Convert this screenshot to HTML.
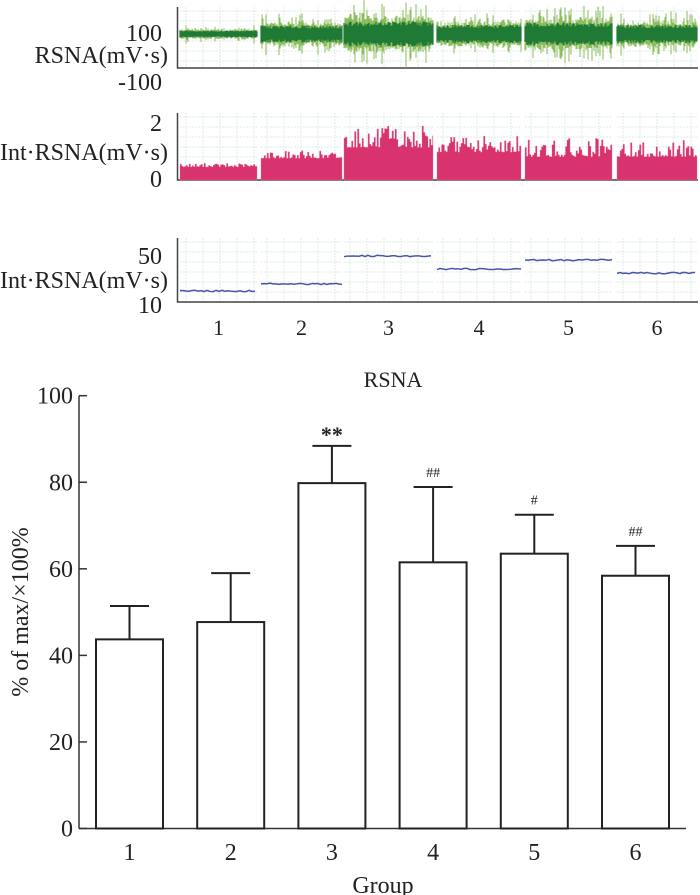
<!DOCTYPE html>
<html><head><meta charset="utf-8"><style>
body{margin:0;background:#fff}
svg{display:block;font-family:"Liberation Serif",serif}
</style></head><body>
<svg id="c" width="700" height="895" viewBox="0 0 700 895" xmlns="http://www.w3.org/2000/svg">
<g id="topg"></g>
<g id="bot"></g>
</svg>
<script>
// ---------- data ----------
const groups = ["1","2","3","4","5","6"];
const means = [43.7, 47.7, 79.8, 61.5, 63.5, 58.4];
const errTops = [51.4, 59.0, 88.4, 78.9, 72.5, 65.3];
const marks = ["", "", "**", "##", "#", "##"];
const yTicks = [0, 20, 40, 60, 80, 100];
// trace panel data (per group)
const rawAmp = [5, 12, 18, 13, 16, 13];
const intLevel = [0.42, 0.7, 1.05, 0.9, 0.75, 0.75];
const intPeak = [0.55, 0.95, 1.75, 1.45, 1.35, 1.3];
const meanLevel = [19.6, 25.7, 50, 38.7, 46.5, 35.2];

const NS = "http://www.w3.org/2000/svg";
function el(tag, attrs, parent){const e=document.createElementNS(NS,tag);for(const k in attrs)e.setAttribute(k,attrs[k]);parent.appendChild(e);return e;}
function txt(s, attrs, parent){const e=el("text",attrs,parent);e.textContent=s;return e;}
function noise(i){const v=Math.sin(i*12.9898+78.233)*43758.5453;return v-Math.floor(v);}

// ---------- bottom chart ----------
const bot=document.getElementById("bot");
const X0=79, Y0=828.5, Y100=395.7, XEND=686;
const yS=v=>Y0-(v/100)*(Y0-Y100);
const bx=i=>96+i*101.2;
const BW=67;
const ya=el("line",{x1:X0,y1:Y100,x2:X0,y2:Y0,stroke:"#333","stroke-width":1.5},bot);


const xa=el("line",{x1:X0,y1:Y0,x2:XEND,y2:Y0,stroke:"#333","stroke-width":1.5},bot);


yTicks.forEach(t=>{
  const l=el("line",{x1:X0,y1:yS(t),x2:X0+8,y2:yS(t),stroke:"#333","stroke-width":1.5},bot);
  
  
  const tt=txt(String(t),{x:X0-6,y:yS(t)+8,"text-anchor":"end","font-size":24,fill:"#222"},bot);
  
  
});
groups.forEach((g,i)=>{
  const x=bx(i), cx=x+BW/2;
  const ev=el("line",{x1:cx,y1:yS(errTops[i]),x2:cx,y2:yS(means[i]),stroke:"#222","stroke-width":2},bot);
  
  
  const cap=el("line",{x1:cx-19.5,y1:yS(errTops[i]),x2:cx+19.5,y2:yS(errTops[i]),stroke:"#222","stroke-width":2},bot);
  
  
  const r=el("rect",{x:x,y:yS(means[i]),width:BW,height:Y0-yS(means[i]),fill:"#fff",stroke:"#222","stroke-width":2},bot);
  
  
  const lab=txt(g,{x:cx,y:860,"text-anchor":"middle","font-size":24,fill:"#222"},bot);
  
  
  if(marks[i]){
    const star=marks[i]==="**";
    const m=txt(marks[i],{x:cx,y:yS(errTops[i])-(star?4:10),"text-anchor":"middle","font-size":star?22:14,"font-weight":star?"bold":"normal",fill:"#222"},bot);
    
    
  }
});
const ti=txt("RSNA",{x:393,y:387,"text-anchor":"middle","font-size":22,fill:"#222"},bot);


const xt=txt("Group",{x:383,y:893,"text-anchor":"middle","font-size":24,fill:"#222"},bot);


const yt=txt("% of max/×100%",{x:0,y:0,"text-anchor":"middle","font-size":24,fill:"#222",transform:"translate(28,612) rotate(-90)"},bot);



// ---------- top traces ----------
const topG=document.getElementById("topg");
const segs=[[180,257],[261,342],[344,433],[437,521],[525,612],[617,697]];
const AX=177.5;
function panel(y0,y1,name){
  segs.forEach(s=>{
    for(let x=s[0]+6;x<s[1];x+=17) el("line",{x1:x,y1:y0,x2:x,y2:y1,stroke:"#dcebe6","stroke-width":1,"stroke-dasharray":"2,1"},topG);
    for(let yy=y0+4;yy<y1;yy+=10) el("line",{x1:s[0],y1:yy,x2:s[1],y2:yy,stroke:"#dcebe6","stroke-width":1,"stroke-dasharray":"2,1"},topG);
  });
  const a=el("polyline",{points:`${AX},${y0} ${AX},${y1} 698,${y1}`,fill:"none",stroke:"#444","stroke-width":1.5},topG);
  
  
}
panel(7,68,"raw-rsna");panel(113,180,"int-rsna");panel(238,302,"mean-rsna");
let k=0;
segs.forEach((s,i)=>{
  const c=34, A=rawAmp[i]*0.8;
  let d="";
  for(let x=s[0];x<=s[1];x+=1){const n=noise(k++);const h=A*(1+1.2*Math.pow(n,5));d+=`M${x},${c-h*(0.7+0.5*noise(k++))}V${c+h*(0.7+0.5*noise(k++))}`;}
  const p=el("path",{d:d,stroke:"#8dbd5c","stroke-width":1,fill:"none"},topG);
  
  
  let d2="";
  for(let x=s[0];x<=s[1];x+=1){const h=A*(0.55+0.35*noise(k++));d2+=`M${x},${c-h}V${c+h}`;}
  el("path",{d:d2,stroke:"#1f7a35","stroke-width":1.2,fill:"none"},topG);
});
const iy=v=>180-v*31;
segs.forEach((s,i)=>{
  let d=`M${s[0]},180`;
  for(let x=s[0];x<s[1];x+=1.5){const n=noise(k++);const v=intLevel[i]+(intPeak[i]-intLevel[i])*Math.pow(n,2.5);d+=`L${x},${iy(v)}L${Math.min(x+1.5,s[1])},${iy(v)}`;}
  d+=`L${s[1]},180Z`;
  const p=el("path",{d:d,fill:"#d8326f",stroke:"#e27aa0","stroke-width":0.4},topG);
  
  
});
const my=v=>302-(v-10)*(302-256)/40;
segs.forEach((s,i)=>{
  let pts="";
  for(let x=s[0];x<=s[1];x+=3){pts+=`${x},${my(meanLevel[i])+(noise(k++)-0.5)*1.5} `;}
  const p=el("polyline",{points:pts,fill:"none",stroke:"#4a55a8","stroke-width":1.5},topG);
  
  
});
[["100",162,41],["RSNA(mV·s)",168,63],["-100",162,90],["2",162,131],["Int·RSNA(mV·s)",168,160],["0",162,187],["50",162,264],["Int·RSNA(mV·s)",168,288],["10",162,313]].forEach(a=>{
  const t=txt(a[0],{x:a[1],y:a[2],"text-anchor":"end","font-size":24,fill:"#222"},topG);
  
  
});
segs.forEach((s,i)=>{
  const t=txt(groups[i],{x:(s[0]+s[1])/2,y:335,"text-anchor":"middle","font-size":22,fill:"#222"},topG);
  
  
});
</script>
</body></html>
